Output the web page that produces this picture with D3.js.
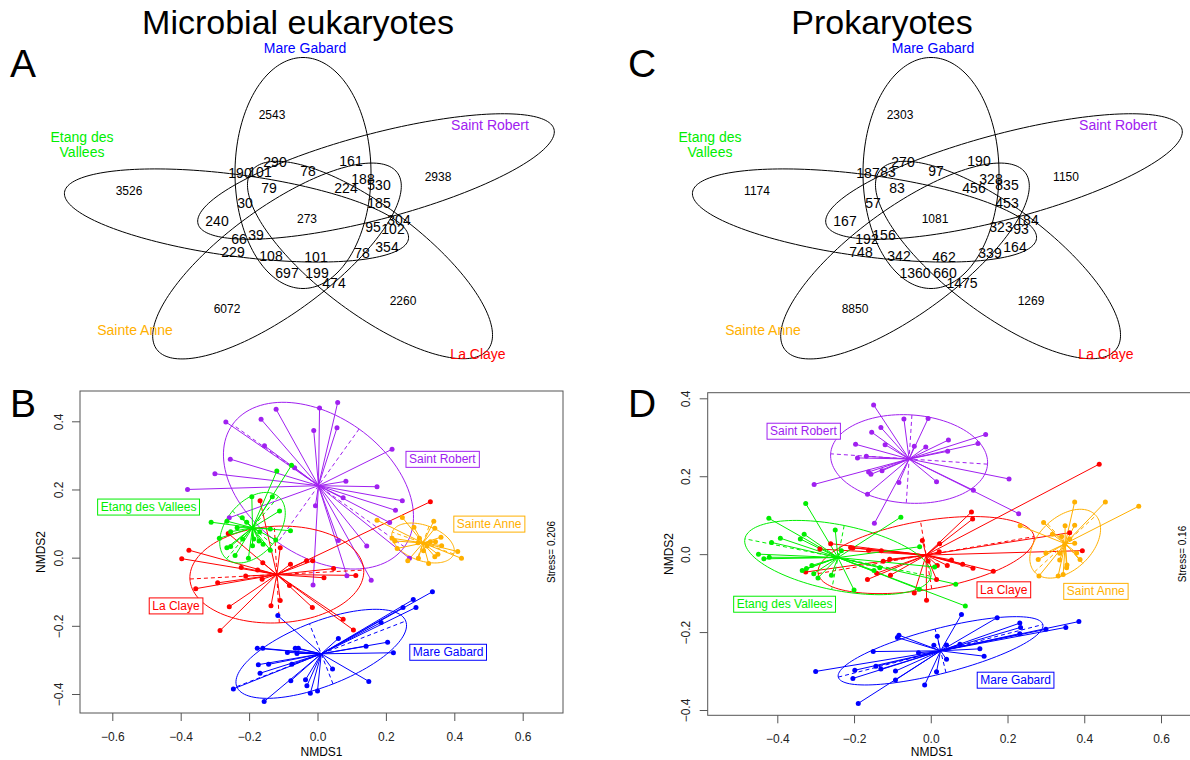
<!DOCTYPE html>
<html>
  <head>
    <meta charset="UTF-8" />
    <script src="https://cdn.jsdelivr.net/npm/d3@7"></script>
    <style>
      body { margin: 0; background: #fff; }
      svg { font-family: "Liberation Sans", Arial, sans-serif; }
    </style>
  </head>
  <body>
    <svg></svg>
    <script>
      // 1. data
      const sites = ["Mare Gabard", "Saint Robert", "La Claye", "Sainte Anne", "Etang des Vallees"]
      const siteColors = ["#0000FF", "#A020F0", "#FF0000", "#FFB000", "#00EE00"]

      // venn region counts (same region order for both diagrams)
      const eukCounts = [290, 161, 190, 101, 78, 188, 530, 79, 224, 30, 185, 240, 273, 304, 95, 102,
        66, 39, 229, 108, 101, 78, 354, 697, 199, 474, 2543, 2938, 2260, 6072, 3526]
      const proCounts = [270, 190, 187, 83, 97, 328, 835, 83, 456, 57, 453, 167, 1081, 184, 323, 93,
        192, 156, 748, 342, 462, 339, 164, 1360, 660, 1475, 2303, 1150, 1269, 8850, 1174]

      // NMDS scores, microbial eukaryotes
      const eukMareGabard = [[0.336,-0.1],[0.28,-0.123],[0.25,-0.146],[0.288,-0.146],[0.186,-0.19],[0.205,-0.248],
        [0.142,-0.26],[0.222,-0.279],[0.061,-0.237],[0.15,-0.363],[0.044,-0.327],[-0.176,-0.266],[-0.16,-0.266],
        [-0.088,-0.278],[-0.065,-0.266],[-0.056,-0.266],[-0.06,-0.281],[-0.075,-0.313],[-0.173,-0.314],
        [-0.143,-0.313],[-0.168,-0.339],[-0.116,-0.17],[-0.078,-0.361],[-0.035,-0.358],[-0.031,-0.376],
        [-0.021,-0.398],[0.0,-0.391],[-0.246,-0.385],[-0.156,-0.422]]
      const eukSaintRobert = [[0.059,0.455],[0.006,0.439],[-0.121,0.435],[-0.165,0.406],[-0.268,0.398],[0.057,0.381],
        [-0.011,0.373],[-0.155,0.328],[0.218,0.318],[-0.255,0.289],[-0.067,0.264],[-0.3,0.246],[0.083,0.224],
        [0.174,0.208],[-0.38,0.2],[0.075,0.176],[0.248,0.167],[-0.006,0.152],[0.228,0.139],[0.211,0.103],
        [0.061,0.05],[0.144,0.034],[0.269,-0.002],[0.086,-0.053],[0.157,-0.066],[-0.013,-0.08],[-0.258,0.117]]
      const eukLaClaye = [[-0.168,0.167],[0.33,0.164],[-0.376,0.022],[-0.397,-0.003],[-0.261,0.071],[-0.109,0.029],
        [-0.223,-0.029],[-0.16,-0.015],[-0.175,-0.036],[-0.21,-0.054],[-0.292,-0.074],[-0.356,-0.091],
        [-0.082,-0.082],[-0.079,-0.019],[-0.032,-0.009],[-0.014,-0.009],[0.047,-0.032],[0.019,-0.059],
        [0.112,-0.052],[-0.162,-0.063],[-0.109,-0.126],[-0.136,-0.141],[-0.258,-0.144],[-0.015,-0.146],
        [-0.285,-0.214],[0.075,-0.181],[0.105,-0.212]]
      const eukSainteAnne = [[0.174,0.11],[0.248,0.118],[0.34,0.107],[0.343,0.086],[0.282,0.089],[0.218,0.057],
        [0.226,0.049],[0.298,0.057],[0.361,0.06],[0.345,0.047],[0.363,0.035],[0.33,0.047],[0.294,0.044],
        [0.32,0.034],[0.41,0.018],[0.421,-0.002],[0.343,0.003],[0.352,0.01],[0.295,-0.002],[0.264,-0.009],
        [0.325,-0.017],[0.31,0.02],[0.233,0.027]]
      const eukEtang = [[-0.076,0.271],[-0.119,0.254],[-0.192,0.179],[-0.132,0.179],[-0.111,0.137],[-0.311,0.104],
        [-0.265,0.107],[-0.22,0.117],[-0.207,0.104],[-0.235,0.088],[-0.254,0.076],[-0.169,0.076],[-0.138,0.084],
        [-0.079,0.079],[-0.219,0.055],[-0.186,0.055],[-0.171,0.049],[-0.122,0.052],[-0.287,0.057],
        [-0.265,0.029],[-0.254,0.033],[-0.241,0.006],[-0.202,-0.002],[-0.159,0.039],[-0.138,0.022],[-0.19,0.035]]

      // NMDS scores, prokaryotes
      const proMareGabard = [[0.386,-0.173],[0.352,-0.188],[0.3,-0.193],[0.232,-0.177],[0.234,-0.188],[0.232,-0.204],
        [0.173,-0.163],[0.08,-0.155],[0.017,-0.211],[0.041,-0.233],[0.076,-0.231],[0.128,-0.243],[0.139,-0.262],
        [0.008,-0.234],[-0.032,-0.253],[-0.083,-0.208],[-0.087,-0.214],[-0.15,-0.25],[-0.3,-0.301],
        [-0.198,-0.298],[-0.203,-0.319],[-0.143,-0.288],[-0.13,-0.295],[-0.092,-0.3],[-0.092,-0.323],
        [-0.016,-0.336],[0.015,-0.302],[0.041,-0.27],[-0.189,-0.383]]
      const proSaintRobert = [[-0.149,0.383],[-0.07,0.347],[-0.007,0.348],[-0.13,0.325],[-0.154,0.313],[-0.196,0.282],
        [-0.119,0.281],[-0.043,0.277],[-0.013,0.275],[0.046,0.293],[0.143,0.307],[0.123,0.284],[0.044,0.264],
        [-0.191,0.247],[-0.168,0.251],[-0.162,0.211],[-0.156,0.205],[-0.127,0.214],[-0.304,0.179],
        [-0.083,0.184],[0.015,0.186],[0.204,0.193],[0.111,0.164],[-0.165,0.154],[-0.147,0.079],[0.229,0.104]]
      const proLaClaye = [[0.439,0.231],[0.106,0.108],[0.109,0.09],[0.362,0.055],[0.395,0.009],[-0.022,0.035],
        [0.023,0.027],[0.022,0.006],[-0.261,0.027],[-0.289,0.013],[-0.209,0.017],[-0.203,0.016],[-0.162,0.01],
        [-0.129,0.009],[-0.107,-0.013],[-0.124,-0.018],[-0.007,-0.018],[0.054,-0.015],[0.083,-0.026],
        [0.11,-0.036],[0.163,-0.044],[0.017,-0.029],[0.043,-0.029],[-0.141,-0.049],[-0.165,-0.065],
        [-0.105,-0.054],[0.015,-0.065],[-0.043,-0.1],[-0.011,-0.118],[-0.326,-0.046]]
      const proSainteAnne = [[0.375,0.134],[0.455,0.134],[0.542,0.123],[0.294,0.081],[0.233,0.073],[0.35,0.073],
        [0.375,0.074],[0.317,0.051],[0.341,0.045],[0.362,0.039],[0.375,0.028],[0.349,0.025],[0.3,0.003],
        [0.336,0.002],[0.38,0.003],[0.389,-0.014],[0.28,-0.014],[0.336,-0.015],[0.355,-0.028],[0.354,-0.035],
        [0.332,-0.056],[0.345,-0.052],[0.282,-0.056]]
      const proEtang = [[-0.326,0.13],[-0.422,0.092],[-0.249,0.062],[-0.078,0.095],[-0.33,0.051],[-0.392,0.041],
        [-0.34,0.039],[-0.415,0.03],[-0.449,0.0],[-0.435,-0.012],[-0.421,-0.008],[-0.233,0.009],[-0.029,0.019],
        [-0.335,-0.042],[-0.31,-0.029],[-0.324,-0.037],[-0.305,-0.05],[-0.294,-0.061],[-0.259,-0.054],
        [-0.2,-0.092],[-0.148,-0.042],[-0.133,-0.035],[-0.03,-0.09],[0.01,-0.033],[0.065,-0.077],[0.09,-0.133]]

      const xTicksB = [-0.6, -0.4, -0.2, 0.0, 0.2, 0.4, 0.6]
      const xTicksD = [-0.4, -0.2, 0.0, 0.2, 0.4, 0.6]
      const yTicks = [-0.4, -0.2, 0.0, 0.2, 0.4]

      // 2. layout
      const width = 1190
      const height = 760
      const svg = d3.select("svg").attr("width", width).attr("height", height)

      // venn ellipses: offset of centre from venn centre (px), axis angle (deg), half length
      const venn = { k: 1.7, a: 40 }
      const vennShapes = [
        [-4, -46, -90, 115.5],
        [69, -42.5, -26.5, 115.5],
        [63, 41, 56.4, 115.5],
        [-30, 42, 124.4, 115.5],
        [-70.5, -3.5, 194.4, 104]
      ]
      // region label offsets from the venn centre
      const regionPos = [[-32,-57],[44,-58],[-67,-46],[-47,-47],[1,-48],[56,-40],[72,-34],[-38,-31],[39,-31],
        [-62,-16],[72,-16],[-90,2],[0,0],[92,1],[66,8],[86,10],[-68,20],[-51,16],[-74,33],[-36,37],[9,38],
        [55,34],[80,28],[-20,54],[10,54],[27,64],[-35,-104],[131,-42],[96,82],[-80,90],[-178,-28]]
      const bigRegion = (i) => i !== 12 && i < 26
      const setLabelPos = [[-2,-166],[183,-89],[171,140],[-172,116],[-225,-77]]

      function drawVenn(cx, cy, counts) {
        const g = svg.append("g")
        vennShapes.forEach(([dx, dy, ang, b]) => {
          const be = (ang * Math.PI) / 180
          const pts = d3.range(0, 360, 2).map((t) => {
            t = (t * Math.PI) / 180
            const ux = b * Math.cos(t) * Math.cos(be) - venn.a * Math.sin(t) * Math.sin(be)
            const uy = b * Math.cos(t) * Math.sin(be) + venn.a * Math.sin(t) * Math.cos(be)
            return [cx + dx + venn.k * ux, cy + dy + uy]
          })
          g.append("path")
            .attr("d", d3.line().curve(d3.curveLinearClosed)(pts))
            .attr("fill", "none")
            .attr("stroke", "#000")
            .attr("stroke-width", 1)
        })
        g.selectAll("text.n")
          .data(counts)
          .join("text")
          .attr("class", "n")
          .attr("x", (d, i) => cx + regionPos[i][0])
          .attr("y", (d, i) => cy + regionPos[i][1])
          .attr("dy", "0.35em")
          .attr("text-anchor", "middle")
          .attr("font-size", (d, i) => (bigRegion(i) ? 14 : 12))
          .text((d) => d)

        sites.forEach((s, i) => {
          const t = g.append("text")
            .attr("x", cx + setLabelPos[i][0])
            .attr("y", cy + setLabelPos[i][1])
            .attr("text-anchor", "middle")
            .attr("font-size", 14)
            .attr("fill", siteColors[i])
          if (s === "Etang des Vallees") {
            t.append("tspan").attr("x", cx + setLabelPos[i][0]).text("Etang des")
            t.append("tspan").attr("x", cx + setLabelPos[i][0]).attr("dy", 15).text("Vallees")
          } else t.text(s)
        })
      }

      drawVenn(307, 219, eukCounts)
      drawVenn(935, 219, proCounts)

      // titles and panel letters
      svg.append("text").attr("x", 298).attr("y", 34).attr("text-anchor", "middle")
        .attr("font-size", 34).text("Microbial eukaryotes")
      svg.append("text").attr("x", 882).attr("y", 34).attr("text-anchor", "middle")
        .attr("font-size", 34).text("Prokaryotes")
      const letters = [["A", 10, 77], ["B", 10, 417], ["C", 628, 77], ["D", 628, 417]]
      letters.forEach(([l, x, y]) => svg.append("text").attr("x", x).attr("y", y).attr("font-size", 39).text(l))

      // 3. NMDS panels
      function covEllipse(pts) {
        const mx = d3.mean(pts, (d) => d[0])
        const my = d3.mean(pts, (d) => d[1])
        const n = pts.length
        let sxx = 0, syy = 0, sxy = 0
        pts.forEach(([x, y]) => {
          sxx += (x - mx) ** 2
          syy += (y - my) ** 2
          sxy += (x - mx) * (y - my)
        })
        sxx /= n - 1; syy /= n - 1; sxy /= n - 1
        const tr = sxx + syy
        const det = sxx * syy - sxy * sxy
        const disc = Math.sqrt(Math.max(0, (tr * tr) / 4 - det))
        const l1 = tr / 2 + disc
        const l2 = tr / 2 - disc
        let v1 = [sxy, l1 - sxx]
        const nv = Math.hypot(v1[0], v1[1]) || 1
        v1 = [v1[0] / nv, v1[1] / nv]
        const v2 = [-v1[1], v1[0]]
        return { mx, my, r1: Math.sqrt(l1), r2: Math.sqrt(Math.max(l2, 0)), v1, v2 }
      }

      function drawNMDS(p) {
        const x = d3.scaleLinear().domain([p.xTicks[0], p.xTicks[p.xTicks.length - 1]]).range(p.xRange)
        const y = d3.scaleLinear().domain([-0.4, 0.4]).range(p.yRange)
        const g = svg.append("g")
        const clip = "clip" + p.id
        svg.append("clipPath").attr("id", clip).append("rect")
          .attr("x", p.box[0]).attr("y", p.box[1]).attr("width", p.box[2] - p.box[0]).attr("height", p.box[3] - p.box[1])
        const plot = g.append("g").attr("clip-path", `url(#${clip})`)

        p.groups.forEach((pts, gi) => {
          const col = siteColors[gi]
          const e = covEllipse(pts)
          const s = p.scale
          // spider
          plot.append("g")
            .selectAll("line")
            .data(pts)
            .join("line")
            .attr("x1", x(e.mx)).attr("y1", y(e.my))
            .attr("x2", (d) => x(d[0])).attr("y2", (d) => y(d[1]))
            .attr("stroke", col).attr("stroke-width", 1)
          // ellipse
          const ell = d3.range(0, 361, 3).map((t) => {
            t = (t * Math.PI) / 180
            const c = s * e.r1 * Math.cos(t), sn = s * e.r2 * Math.sin(t)
            return [x(e.mx + c * e.v1[0] + sn * e.v2[0]), y(e.my + c * e.v1[1] + sn * e.v2[1])]
          })
          plot.append("path").attr("d", d3.line()(ell)).attr("fill", "none")
            .attr("stroke", col).attr("stroke-width", 1)
          // dashed axes
          ;[[e.v1, e.r1], [e.v2, e.r2]].forEach(([v, r]) => {
            plot.append("line")
              .attr("x1", x(e.mx - s * r * v[0])).attr("y1", y(e.my - s * r * v[1]))
              .attr("x2", x(e.mx + s * r * v[0])).attr("y2", y(e.my + s * r * v[1]))
              .attr("stroke", col).attr("stroke-width", 1).attr("stroke-dasharray", "4,3")
          })
        })
        p.groups.forEach((pts, gi) => {
          plot.append("g").attr("fill", siteColors[gi])
            .selectAll("circle").data(pts).join("circle")
            .attr("cx", (d) => x(d[0])).attr("cy", (d) => y(d[1])).attr("r", 2.5)
        })

        // labels
        p.labels.forEach(([lx, ly], gi) => {
          const lg = plot.append("g")
          const t = lg.append("text").attr("x", x(lx)).attr("y", y(ly)).attr("dy", "0.35em")
            .attr("text-anchor", "middle").attr("font-size", 12).attr("fill", siteColors[gi])
            .text(p.names[gi])
          const bb = t.node().getBBox()
          lg.insert("rect", "text").attr("x", bb.x - 3).attr("y", bb.y - 1)
            .attr("width", bb.width + 6).attr("height", bb.height + 2)
            .attr("fill", "#fff").attr("stroke", siteColors[gi]).attr("stroke-width", 1)
        })

        // box and axes
        g.append("rect").attr("x", p.box[0]).attr("y", p.box[1])
          .attr("width", p.box[2] - p.box[0]).attr("height", p.box[3] - p.box[1])
          .attr("fill", "none").attr("stroke", "#555").attr("stroke-width", 1)
        const ax = g.append("g").attr("transform", `translate(0,${p.box[3]})`)
          .call(d3.axisBottom(x).tickValues(p.xTicks).tickSize(8).tickPadding(11).tickFormat(d3.format(".1f")))
        ax.select(".domain").remove()
        const ay = g.append("g").attr("transform", `translate(${p.box[0]},0)`)
          .call(d3.axisLeft(y).tickValues(yTicks).tickSize(8).tickFormat(d3.format(".1f")))
        ay.select(".domain").remove()
        ay.selectAll(".tick text").attr("transform", "rotate(-90)").attr("x", 0).attr("y", -17.5)
          .attr("dy", 0).attr("text-anchor", "middle")
        g.selectAll(".tick line").attr("stroke", "#555")
        g.selectAll(".tick text").attr("font-size", 12).attr("font-family", "Liberation Sans, Arial, sans-serif").attr("fill", "#222")
        g.append("text").attr("x", (p.box[0] + Math.min(p.box[2], 1190)) / 2 + p.titleShift).attr("y", 756)
          .attr("text-anchor", "middle").attr("font-size", 12).text("NMDS1")
        g.append("text").attr("transform", `translate(${p.box[0] - 35},${(p.box[1] + p.box[3]) / 2}) rotate(-90)`)
          .attr("text-anchor", "middle").attr("font-size", 12).text("NMDS2")
        g.append("text").attr("transform", `translate(${p.stress[0]},${p.stress[1]}) rotate(-90)`)
          .attr("text-anchor", "middle").attr("font-size", 10).text(p.stressText)
      }

      drawNMDS({
        id: "B",
        groups: [eukMareGabard, eukSaintRobert, eukLaClaye, eukSainteAnne, eukEtang],
        names: ["Mare Gabard", "Saint Robert", "La Claye", "Sainte Anne", "Etang des Vallees"],
        labels: [[0.382, -0.277], [0.365, 0.289], [-0.414, -0.141], [0.502, 0.099], [-0.494, 0.149]],
        xTicks: xTicksB, xRange: [112.3, 522.7], yRange: [694, 421.3],
        box: [80, 391, 563, 713], scale: 1.5,
        stress: [555, 552], stressText: "Stress= 0.206", titleShift: 0
      })
      drawNMDS({
        id: "D",
        groups: [proMareGabard, proSaintRobert, proLaClaye, proSainteAnne, proEtang],
        names: ["Mare Gabard", "Saint Robert", "La Claye", "Saint Anne", "Etang des Vallees"],
        labels: [[0.221, -0.323], [-0.332, 0.316], [0.19, -0.091], [0.43, -0.095], [-0.381, -0.128]],
        xTicks: xTicksD, xRange: [777.3, 1161], yRange: [710, 398.3],
        box: [707.7, 392.7, 1195, 715.3], scale: 1.5,
        stress: [1186, 554], stressText: "Stress= 0.16", titleShift: -17
      })
    </script>
  </body>
</html>
